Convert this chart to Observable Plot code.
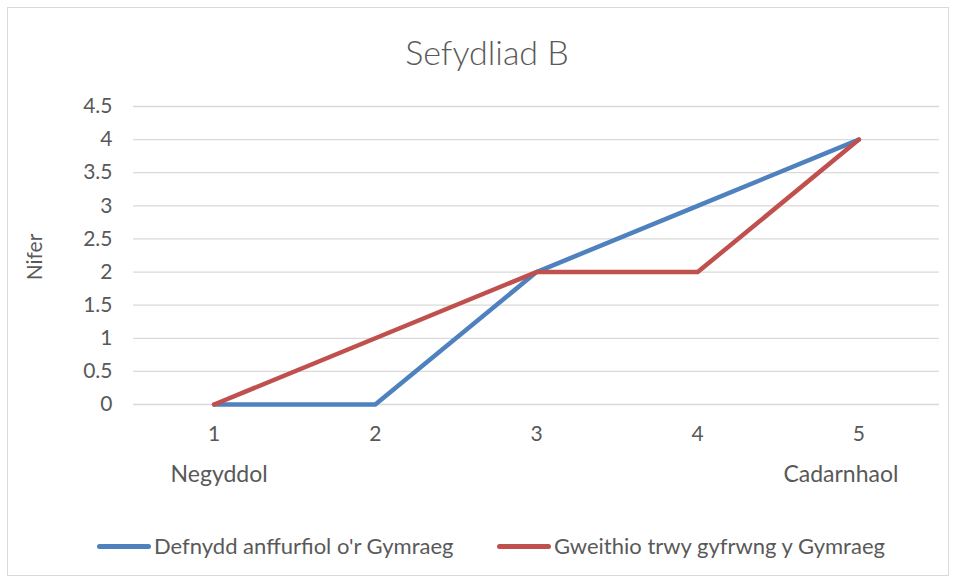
<!DOCTYPE html>
<html>
<head>
<meta charset="utf-8">
<script src="https://cdn.jsdelivr.net/npm/d3@7"></script>
<script src="https://cdn.jsdelivr.net/npm/@observablehq/plot@0.6"></script>
<style>
  html, body { margin: 0; padding: 0; background: #fff; }
  body { width: 956px; height: 579px; position: relative; overflow: hidden; font-family: Lato, "Open Sans", sans-serif; color: #595959; }
  #frame { position: absolute; left: 7px; top: 7px; width: 942px; height: 569px; border: 1px solid #d9d9d9; box-sizing: border-box; }
  #title { position: absolute; left: 0; width: 974px; top: 30px; text-align: center; font-size: 34px; font-weight: 300; color: #595959; line-height: 44px; }
  #ylabel { position: absolute; left: 33px; top: 257px; transform: translate(-50%, -50%) rotate(-90deg); font-size: 21px; color: #595959; white-space: nowrap; }
  #chart { position: absolute; left: 0; top: 0; }
  #legend { position: absolute; top: 532px; left: 0; width: 956px; font-size: 22px; color: #595959; }
  .item { position: absolute; display: flex; align-items: center; white-space: nowrap; line-height: 28px; }
  .sw { width: 54px; height: 5px; border-radius: 3px; margin-right: 3px; }
</style>
</head>
<body>
<div id="frame"></div>
<div id="chart"></div>
<div id="title"></div>
<div id="ylabel"></div>
<div id="legend"></div>
<script>
const title = "Sefydliad B";
const yLabel = "Nifer";
const categories = [1, 2, 3, 4, 5];
const seriesNames = ["Defnydd anffurfiol o'r Gymraeg", "Gweithio trwy gyfrwng y Gymraeg"];
const seriesA = [0, 0, 2, 3, 4];
const seriesB = [0, 1, 2, 2, 4];
const colors = ["#4e81bd", "#c0504d"];
const yTicks = [0, 0.5, 1, 1.5, 2, 2.5, 3, 3.5, 4, 4.5];
const leftLabel = [{x: 1, label: "Negyddol"}];
const rightLabel = [{x: 5, label: "Cadarnhaol"}];

const rows = [];
categories.forEach((c, i) => {
  rows.push({series: seriesNames[0], x: c, y: seriesA[i]});
  rows.push({series: seriesNames[1], x: c, y: seriesB[i]});
});

document.getElementById("title").textContent = title;
document.getElementById("ylabel").textContent = yLabel;

const font = "Lato, 'Open Sans', sans-serif";
const plot = Plot.plot({
  width: 956,
  height: 579,
  marginLeft: 133,
  marginRight: 17,
  marginTop: 106,
  marginBottom: 175,
  style: {fontFamily: font, fontSize: "21px", color: "#595959", background: "transparent"},
  x: {domain: [0.5, 5.5], label: null},
  y: {domain: [0, 4.5], label: null},
  color: {domain: seriesNames, range: colors},
  marks: [
    Plot.gridY(yTicks, {stroke: "#d9d9d9", strokeOpacity: 1, strokeWidth: 1.3}),
    Plot.axisX(categories, {tickSize: 0, tickPadding: 22, tickFormat: d => String(d), label: null, fontSize: 21, fill: "#595959"}),
    Plot.axisY(yTicks, {tickSize: 0, tickPadding: 21, tickFormat: d => String(d), label: null, fontSize: 21, fill: "#595959"}),
    Plot.line(rows, {x: "x", y: "y", z: "series", stroke: "series", strokeWidth: 4.5, strokeLinejoin: "round", strokeLinecap: "round"}),
    Plot.text(leftLabel, {x: "x", y: () => 0, text: "label", dy: 70, dx: 5, fontSize: 23, fill: "#595959"}),
    Plot.text(rightLabel, {x: "x", y: () => 0, text: "label", dy: 70, dx: -18, fontSize: 23, fill: "#595959"})
  ]
});
document.getElementById("chart").appendChild(plot);

const legend = document.getElementById("legend");
const lefts = [97, 497];
seriesNames.forEach((name, i) => {
  const it = document.createElement("div");
  it.className = "item";
  it.style.left = lefts[i] + "px";
  it.innerHTML = `<span class="sw" style="background:${colors[i]}"></span><span>${name}</span>`;
  legend.appendChild(it);
});
</script>
</body>
</html>
